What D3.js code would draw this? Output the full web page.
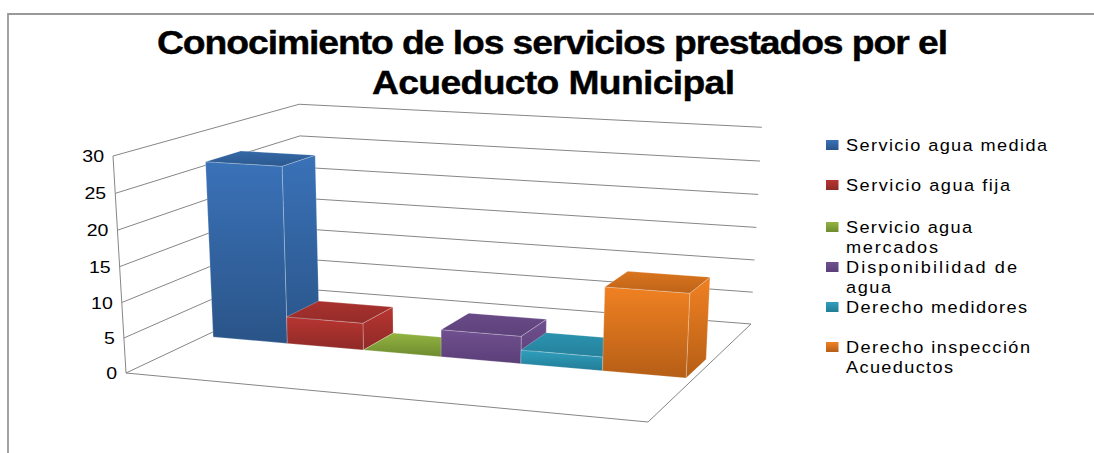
<!DOCTYPE html>
<html>
<head>
<meta charset="utf-8">
<script src="https://cdn.jsdelivr.net/npm/d3@7"></script>
<style>
  html, body { margin: 0; background: #fff; }
  text { font-family: "Liberation Sans", Arial, sans-serif; fill: #000; }
</style>
</head>
<body>
<div id="area1"></div>
<script>
const w1 = 1094;
const h1 = 453;

// values
const categories = ["Servicio agua medida", "Servicio agua fija", "Servicio agua mercados",
                    "Disponibilidad de agua", "Derecho medidores", "Derecho inspección Acueductos"];
const values = [26, 4, 0, 4, 2, 12];
const yTicks = [0, 5, 10, 15, 20, 25, 30];
const titleLines = ["Conocimiento de los servicios prestados por el", "Acueducto Municipal"];
const legendLines = [["Servicio agua medida"], ["Servicio agua fija"], ["Servicio agua", "mercados"],
                     ["Disponibilidad de", "agua"], ["Derecho medidores"], ["Derecho inspección", "Acueductos"]];

// [top of face, bottom of face]
const colors = [["#3a72b8", "#2a5488"], ["#b83531", "#8e2a27"], ["#92b440", "#6f8b30"],
                ["#70508f", "#5b3f78"], ["#2f9fbd", "#237c96"], ["#f08122", "#b55e16"]];

let svg1 = d3.select("#area1")
            .append("svg")
            .attr("width", w1)
            .attr("height", h1);

// Floor corners of the 3D box on screen, and the top of two edges
const fl = [126, 373], fr = [648, 422], br = [751, 324], bl = [304, 289];
const flTop = [113, 156], brTop = [762, 125];

// Homography from the unit floor square to the screen
const dx1 = fr[0]-br[0], dx2 = bl[0]-br[0], sx = fl[0]-fr[0]+br[0]-bl[0];
const dy1 = fr[1]-br[1], dy2 = bl[1]-br[1], sy = fl[1]-fr[1]+br[1]-bl[1];
const det = dx1*dy2 - dx2*dy1;
const g = (sx*dy2 - dx2*sy) / det;
const h = (dx1*sy - sx*dy1) / det;
const a = fr[0]-fl[0]+g*fr[0], b = bl[0]-fl[0]+h*bl[0];
const d = fr[1]-fl[1]+g*fr[1], e = bl[1]-fl[1]+h*bl[1];

// Vanishing point of the verticals
const m1 = (flTop[0]-fl[0]) / (flTop[1]-fl[1]);
const m2 = (brTop[0]-br[0]) / (brTop[1]-br[1]);
const vy = (br[0]-m2*br[1] - fl[0]+m1*fl[1]) / (m1-m2);
const vx = fl[0] + m1*(vy-fl[1]);
const k = (flTop[1]-fl[1]) / (vy-flTop[1]);

// Data scales
const y = d3.scaleLinear().domain([0, 30]).range([0, 1]);
const x = d3.scaleBand().domain(categories).range([0.02, 0.986]);
const depth = [0.397, 0.59];

// u along the front edge, v into the depth, t up the height
function project(u, v, t) {
    let W = g*u + h*v + 1 + k*t;
    let X = a*u + b*v + fl[0] + k*t*vx;
    let Y = d*u + e*v + fl[1] + k*t*vy;
    return [X/W, Y/W];
}
const poly = (pts) => "M" + pts.map(p => p.join(",")).join("L") + "Z";

// The reference text is stretched sideways, so scale x and squeeze the spacing
function stretched(sel, left, width, stretch) {
    sel.attr("x", left / stretch)
        .attr("transform", "scale(" + stretch + ",1)")
        .attr("textLength", width / stretch)
        .attr("lengthAdjust", "spacing");
}

// Vertical gradients
let defs = svg1.append("defs");
colors.forEach((c, i) => {
    let lg = defs.append("linearGradient").attr("id", "grad" + i)
        .attr("x1", 0).attr("y1", 0).attr("x2", 0).attr("y2", 1);
    lg.append("stop").attr("offset", "0%").attr("stop-color", c[0]);
    lg.append("stop").attr("offset", "100%").attr("stop-color", c[1]);
    let lt = defs.append("linearGradient").attr("id", "gradTop" + i)
        .attr("x1", 0).attr("y1", 0).attr("x2", 0).attr("y2", 1);
    lt.append("stop").attr("offset", "0%").attr("stop-color", i == 2 ? c[0] : d3.interpolateRgb(c[0], c[1])(0.35));
    lt.append("stop").attr("offset", "100%").attr("stop-color", i == 2 ? c[1] : d3.interpolateRgb(c[0], c[1])(0.85));
});

// Frame
svg1.append("path")
    .attr("d", "M8,453V14H1094")
    .attr("fill", "none")
    .attr("stroke", "#999")
    .attr("stroke-width", 1.8);

// Title
const titleLeft = [157, 372], titleWidth = [791, 363], titleY = [54, 94];
svg1.selectAll(".title")
    .data(titleLines)
    .enter()
    .append("text")
    .attr("class", "title")
    .attr("y", (t, i) => titleY[i])
    .attr("font-size", 33)
    .attr("font-weight", "bold")
    .style("stroke", "#000")
    .style("stroke-width", 0.4)
    .text(t => t)
    .each(function(t, i) { stretched(d3.select(this), titleLeft[i], titleWidth[i], 1.13); });

// Walls
let grid = svg1.append("g").attr("fill", "none").attr("stroke", "#868686").attr("stroke-width", 1);
grid.selectAll(".wall")
    .data(yTicks)
    .enter()
    .append("path")
    .attr("class", "wall")
    .attr("d", t => "M" + project(0, 0, y(t)) + "L" + project(0, 1, y(t)) + "L" + project(1, 1, y(t)));
grid.append("path").attr("d", "M" + project(0, 0, 1) + "L" + project(0, 0, 0) + "L" + project(1, 0, 0) + "L" + project(1, 1, 0));

// Tick labels
const tickStretch = 1.22;
svg1.selectAll(".tick")
    .data(yTicks)
    .enter()
    .append("text")
    .attr("class", "tick")
    .attr("transform", "scale(" + tickStretch + ",1)")
    .attr("x", t => (project(0, 0, y(t))[0] - 9) / tickStretch)
    .attr("y", t => project(0, 0, y(t))[1] + 6)
    .attr("text-anchor", "end")
    .attr("font-size", 16)
    .text(t => t);

// Bars, left to right so that each one covers the side of the one before
let bars = svg1.selectAll(".bar")
    .data(categories)
    .enter()
    .append("g")
    .attr("class", "bar")
    .attr("stroke", "#fff")
    .attr("stroke-opacity", 0.3)
    .attr("stroke-width", 0.8);

bars.each(function(c, i) {
    let u0 = x(c), u1 = x(c) + x.bandwidth();
    let t = y(values[i]);
    let v0 = depth[0], v1 = depth[1];
    let bar = d3.select(this);
    if (values[i] > 0) {
        // side
        bar.append("path")
            .attr("d", poly([project(u1, v0, 0), project(u1, v1, 0), project(u1, v1, t), project(u1, v0, t)]))
            .attr("fill", "url(#grad" + i + ")");
        // front
        bar.append("path")
            .attr("d", poly([project(u0, v0, 0), project(u1, v0, 0), project(u1, v0, t), project(u0, v0, t)]))
            .attr("fill", "url(#grad" + i + ")");
    }
    // top
    bar.append("path")
        .attr("d", poly([project(u0, v0, t), project(u1, v0, t), project(u1, v1, t), project(u0, v1, t)]))
        .attr("fill", "url(#gradTop" + i + ")");
});

// Legend
const legendY = [145, 185, 227, 267, 307, 347];
const legendWidths = [[201], [164], [126, 92], [171, 45], [181], [184, 107]];
let legend = svg1.selectAll(".legend")
    .data(legendLines)
    .enter()
    .append("g")
    .attr("class", "legend");

legend.append("rect")
    .attr("x", 826)
    .attr("y", (l, i) => legendY[i] - 5)
    .attr("width", 12.5)
    .attr("height", 10)
    .attr("fill", (l, i) => "url(#grad" + i + ")");

legend.each(function(l, i) {
    d3.select(this).selectAll("text")
        .data(l)
        .enter()
        .append("text")
        .attr("y", (s, j) => legendY[i] + 6 + j * 20)
        .attr("font-size", 16.5)
        .text(s => s)
        .each(function(s, j) { stretched(d3.select(this), 846, legendWidths[i][j], 1.1); });
});
</script>
</body>
</html>
